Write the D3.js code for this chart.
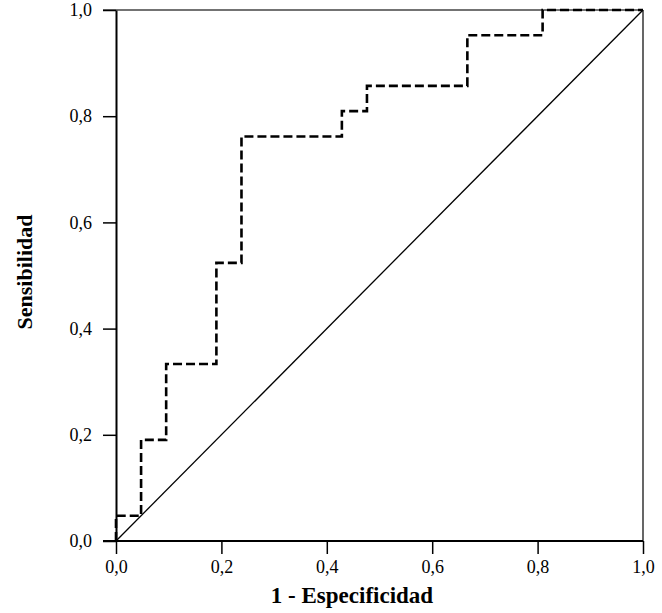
<!DOCTYPE html>
<html>
<head>
<meta charset="utf-8">
<script src="https://d3js.org/d3.v7.min.js"></script>
<style>
  body { margin: 0; background: #fff; }
  text { font-family: "Liberation Serif", "Times New Roman", serif; fill: #000; }
</style>
</head>
<body>
<div id="container"></div>
<script>
var width = 662, height = 613;
var margin = {top: 10, right: 19, bottom: 72, left: 116};

// ROC curve points (1 - especificidad, sensibilidad)
var fpr = [0, 0, 0.0476, 0.0476, 0.0952, 0.0952, 0.1905, 0.1905, 0.2381, 0.2381, 0.4286, 0.4286, 0.4762, 0.4762, 0.6667, 0.6667, 0.8095, 0.8095, 1];
var tpr = [0, 0.0476, 0.0476, 0.1905, 0.1905, 0.3333, 0.3333, 0.5238, 0.5238, 0.7619, 0.7619, 0.8095, 0.8095, 0.8571, 0.8571, 0.9524, 0.9524, 1, 1];
var tickValues = [0, 0.2, 0.4, 0.6, 0.8, 1.0];
var tickLabels = ["0,0", "0,2", "0,4", "0,6", "0,8", "1,0"];

var svg = d3.select("#container").append("svg")
    .attr("width", width)
    .attr("height", height);

var x = d3.scaleLinear().domain([0, 1]).range([margin.left, width - margin.right]);
var y = d3.scaleLinear().domain([0, 1]).range([height - margin.bottom, margin.top]);

// top and right frame
svg.append("line")
    .attr("x1", margin.left - 13).attr("x2", x(1))
    .attr("y1", y(1)).attr("y2", y(1))
    .attr("stroke", "#444").attr("stroke-width", 1.5);
svg.append("line")
    .attr("x1", x(1)).attr("x2", x(1))
    .attr("y1", y(1)).attr("y2", y(0))
    .attr("stroke", "#000").attr("stroke-width", 1.2);

// reference diagonal
svg.append("line")
    .attr("x1", x(0)).attr("y1", y(0))
    .attr("x2", x(1)).attr("y2", y(1))
    .attr("stroke", "#000").attr("stroke-width", 1.3);

// ROC curve
var pts = fpr.map(function(d, i) { return [d, tpr[i]]; });
var line = d3.line().x(function(d) { return x(d[0]); }).y(function(d) { return y(d[1]); });
svg.append("path")
    .datum(pts)
    .attr("d", line)
    .attr("fill", "none")
    .attr("stroke", "#000")
    .attr("stroke-width", 2.6)
    .attr("stroke-dasharray", "9,4");

// axes
var xAxis = d3.axisBottom(x).tickValues(tickValues)
    .tickFormat(function(d, i) { return tickLabels[i]; })
    .tickSize(13).tickSizeOuter(0).tickPadding(6);
var yAxis = d3.axisLeft(y).tickValues(tickValues)
    .tickFormat(function(d, i) { return tickLabels[i]; })
    .tickSize(13).tickSizeOuter(0).tickPadding(11);

var gx = svg.append("g").attr("transform", "translate(0," + y(0) + ")").call(xAxis);
var gy = svg.append("g").attr("transform", "translate(" + x(0) + ",0)").call(yAxis);

[gx, gy].forEach(function(g) {
  g.attr("font-size", null).attr("font-family", null);
  g.select(".domain").attr("stroke", "#000").attr("stroke-width", 2);
  g.selectAll(".tick line").attr("stroke", "#000").attr("stroke-width", 1.5);
  g.selectAll(".tick text")
    .style("font-family", "'Liberation Serif', 'Times New Roman', serif")
    .style("font-size", "18px").attr("fill", "#000");
});
gx.select(".domain").attr("d", "M" + (x(0) - 13) + ",0H" + x(1));

// axis titles
svg.append("text")
    .attr("x", 352)
    .attr("y", 603)
    .attr("text-anchor", "middle")
    .style("font-size", "23px")
    .style("font-weight", "bold")
    .text("1 - Especificidad");

svg.append("text")
    .attr("transform", "translate(32,272) rotate(-90)")
    .attr("text-anchor", "middle")
    .style("font-size", "22px")
    .style("font-weight", "bold")
    .text("Sensibilidad");
</script>
</body>
</html>
